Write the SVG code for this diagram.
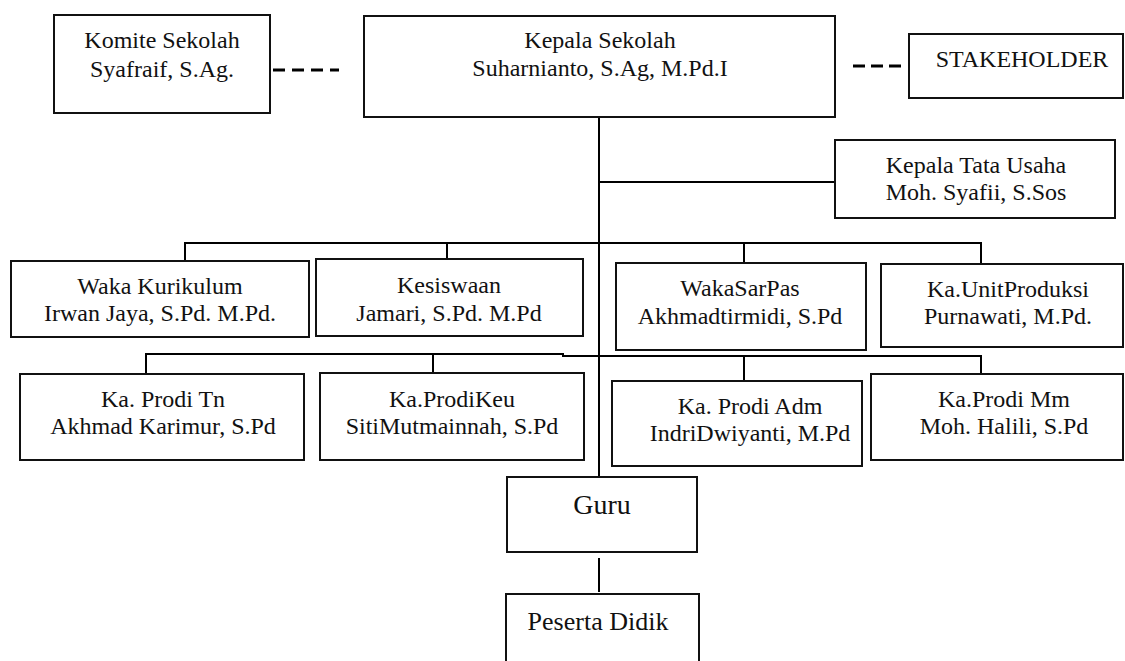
<svg xmlns="http://www.w3.org/2000/svg" width="1125" height="661" viewBox="0 0 1125 661">
<style>
.box{fill:#fff;stroke:#111;stroke-width:2}
.ln{fill:none;stroke:#000;stroke-width:2}
.dash{fill:none;stroke:#000;stroke-width:3}
text{font-family:"Liberation Serif","Times New Roman",serif;font-size:24px;fill:#111;text-anchor:middle}
</style>
<rect width="1125" height="661" fill="#fff"/>
<g id="connectors">
<line class="dash" x1="273" y1="70" x2="339" y2="70" stroke-dasharray="12 7"/>
<line class="dash" x1="853" y1="66" x2="902" y2="66" stroke-dasharray="12 6"/>
<line class="ln" x1="599" y1="117" x2="599" y2="477"/>
<line class="ln" x1="599" y1="182" x2="835" y2="182"/>
<path class="ln" d="M185,262 V243 H981 V264 M447,243 V259 M744,243 V263"/>
<path class="ln" d="M146,373 V354 H563 V356 H981 V374 M433,354 V373 M744,356 V381"/>
<line class="ln" x1="599" y1="558" x2="599" y2="592"/>
</g>
<g id="komite"><rect class="box" x="54" y="15" width="216" height="98"/><text x="162" y="48">Komite Sekolah</text><text x="162" y="77">Syafraif, S.Ag.</text></g>
<g id="kepala"><rect class="box" x="364" y="16" width="471" height="101"/><text x="600" y="48">Kepala Sekolah</text><text x="600" y="76">Suharnianto, S.Ag, M.Pd.I</text></g>
<g id="stakeholder"><rect class="box" x="909" y="34" width="214" height="64"/><text x="1022" y="67">STAKEHOLDER</text></g>
<g id="ktu"><rect class="box" x="835" y="140" width="280" height="78"/><text x="976" y="173">Kepala Tata Usaha</text><text x="976" y="200">Moh. Syafii, S.Sos</text></g>
<g id="kurikulum"><rect class="box" x="11" y="261" width="298" height="76"/><text x="160" y="294">Waka Kurikulum</text><text x="160" y="321">Irwan Jaya, S.Pd. M.Pd.</text></g>
<g id="kesiswaan"><rect class="box" x="316" y="259" width="267" height="77"/><text x="449" y="293">Kesiswaan</text><text x="449" y="321">Jamari, S.Pd. M.Pd</text></g>
<g id="sarpas"><rect class="box" x="616" y="263" width="250" height="87"/><text x="740" y="296">WakaSarPas</text><text x="740" y="324">Akhmadtirmidi, S.Pd</text></g>
<g id="unitproduksi"><rect class="box" x="881" y="264" width="242" height="83"/><text x="1008" y="297">Ka.UnitProduksi</text><text x="1008" y="324">Purnawati, M.Pd.</text></g>
<g id="prodi-tn"><rect class="box" x="20" y="374" width="284" height="86"/><text x="163" y="407">Ka. Prodi Tn</text><text x="163" y="434">Akhmad Karimur, S.Pd</text></g>
<g id="prodi-keu"><rect class="box" x="320" y="373" width="264" height="87"/><text x="452" y="407">Ka.ProdiKeu</text><text x="452" y="434">SitiMutmainnah, S.Pd</text></g>
<g id="prodi-adm"><rect class="box" x="612" y="381" width="250" height="85"/><text x="750" y="414">Ka. Prodi Adm</text><text x="750" y="441">IndriDwiyanti, M.Pd</text></g>
<g id="prodi-mm"><rect class="box" x="871" y="374" width="252" height="86"/><text x="1004" y="407">Ka.Prodi Mm</text><text x="1004" y="434">Moh. Halili, S.Pd</text></g>
<g id="guru"><rect class="box" x="507" y="477" width="190" height="75"/><text x="602" y="514" style="font-size:28px">Guru</text></g>
<g id="peserta"><rect class="box" x="506" y="594" width="193" height="80"/><text x="598" y="630" style="font-size:26px">Peserta Didik</text></g>
</svg>
